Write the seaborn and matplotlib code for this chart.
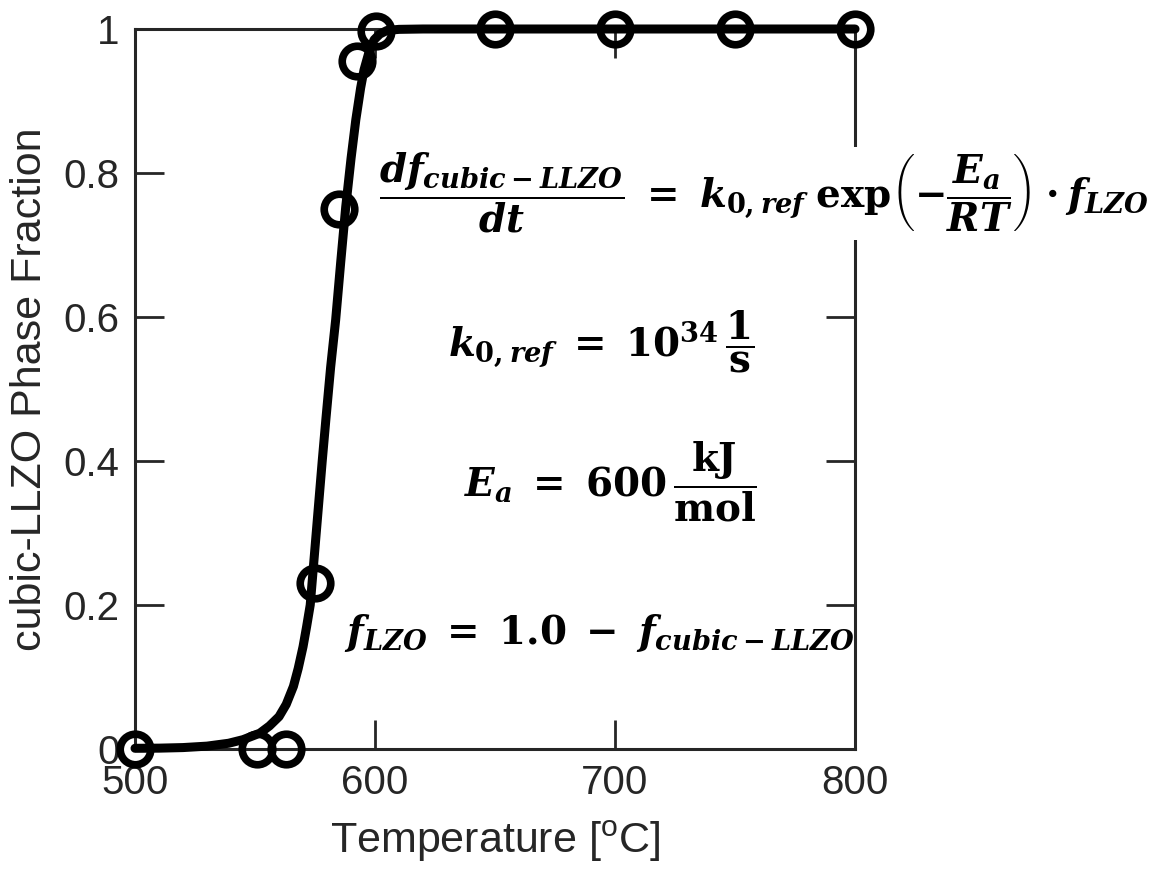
import matplotlib
matplotlib.use("Agg")
import matplotlib.pyplot as plt
import pandas as pd
import seaborn as sns

# measured points (open circles)
temp_meas = [500, 551, 563, 575, 585, 592.5, 600.5, 650, 700, 750, 800]
frac_meas = [0.0, 0.0, 0.0, 0.23, 0.75, 0.955, 0.997, 1.0, 1.0, 1.0, 1.0]

# model curve
temp_model = [500, 510, 520, 530, 539, 545, 552, 556, 560, 563, 566, 568,
              570, 571.5, 573, 574.5, 576.5, 578, 579.5, 581.5, 583.6, 585.7,
              587.8, 590, 592, 594, 595.4, 597.5, 599.6, 602, 605, 610, 620,
              700, 800]
frac_model = [0.001, 0.0012, 0.002, 0.004, 0.008, 0.013, 0.022, 0.032, 0.045,
              0.062, 0.087, 0.112, 0.142, 0.17, 0.20, 0.26, 0.34, 0.40, 0.457,
              0.53, 0.596, 0.676, 0.753, 0.82, 0.874, 0.918, 0.943, 0.968,
              0.985, 0.993, 0.998, 0.9995, 1.0, 1.0, 1.0]

x_ticks = [500, 600, 700, 800]
y_ticks = [0, 0.2, 0.4, 0.6, 0.8, 1]
y_ticklabels = ["0", "0.2", "0.4", "0.6", "0.8", "1"]

eq_rate = (r"$\dfrac{df_{cubic-LLZO}}{dt}\;=\;k_{0,ref}\;\mathrm{exp}"
           r"\left(-\dfrac{E_a}{RT}\right)\cdot f_{LZO}$")
eq_k0 = r"$k_{0,ref}\;=\;10^{34}\,\dfrac{1}{\mathrm{s}}$"
eq_ea = r"$E_a\;=\;600\,\dfrac{\mathrm{kJ}}{\mathrm{mol}}$"
eq_flzo = r"$f_{LZO}\;=\;1.0\;-\;f_{cubic-LLZO}$"

sns.set_theme(style="ticks")
plt.rcParams["font.family"] = ["Liberation Sans", "DejaVu Sans"]
plt.rcParams["mathtext.fontset"] = "custom"
plt.rcParams["mathtext.rm"] = "DejaVu Serif:bold"
plt.rcParams["mathtext.it"] = "DejaVu Serif:italic:bold"
plt.rcParams["mathtext.bf"] = "DejaVu Serif:bold"

dark = "#262626"
eq_size = 28

fig = plt.figure(figsize=(11.7, 8.84), dpi=100)
ax = fig.add_axes([0.1154, 0.1527, 0.6154, 0.8145])

model = pd.DataFrame({"T": temp_model, "f": frac_model})
meas = pd.DataFrame({"T": temp_meas, "f": frac_meas})

sns.lineplot(data=model, x="T", y="f", color="black", linewidth=6.5,
             ax=ax, clip_on=False, zorder=3)
sns.lineplot(data=meas, x="T", y="f", linestyle="none", marker="o",
             markersize=22, markerfacecolor="none", markeredgecolor="black",
             markeredgewidth=5.5, ax=ax, clip_on=False, zorder=4)

ax.set_xlim(500, 800)
ax.set_ylim(0, 1)
ax.set_xticks(x_ticks)
ax.set_yticks(y_ticks)
ax.set_yticklabels(y_ticklabels)
ax.tick_params(direction="in", length=21, width=2, colors=dark,
               labelsize=29, top=True, right=True, pad=11)
for sp in ax.spines.values():
    sp.set_visible(True)
    sp.set_linewidth(2.2)
    sp.set_color(dark)

ax.set_xlabel(r"Temperature [$\mathregular{^o}$C]", fontsize=31, color=dark,
              labelpad=12)
ax.set_ylabel("cubic-LLZO Phase Fraction", fontsize=31, color=dark,
              labelpad=10)

# equations; the first one hides the right spine behind a white box
box = dict(facecolor="white", edgecolor="none", pad=3)
ax.text(0.339, 0.772, eq_rate, transform=ax.transAxes, fontsize=eq_size,
        color="black", ha="left", va="center", bbox=box, zorder=5)
ax.text(0.647, 0.565, eq_k0, transform=ax.transAxes, fontsize=eq_size,
        color="black", ha="center", va="center", zorder=5)
ax.text(0.66, 0.371, eq_ea, transform=ax.transAxes, fontsize=eq_size,
        color="black", ha="center", va="center", zorder=5)
ax.text(0.645, 0.161, eq_flzo, transform=ax.transAxes, fontsize=eq_size,
        color="black", ha="center", va="center", zorder=5)

fig.savefig("out.png", dpi=100, facecolor="white")
